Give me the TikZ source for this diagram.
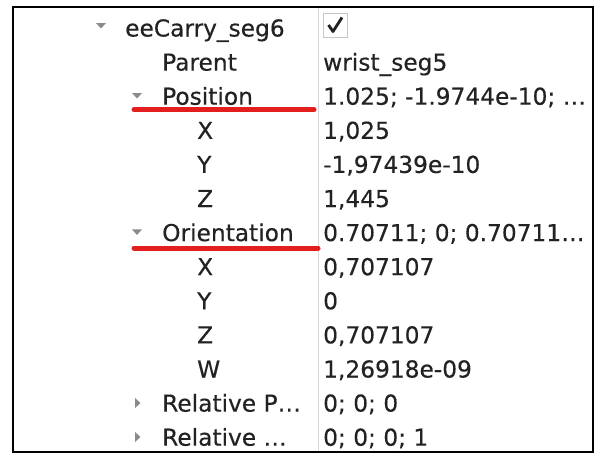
\documentclass[tikz,border=0pt]{standalone}
\usepackage{fontspec}
\setmainfont{DejaVu Sans}
\newfontfamily\tfont[FakeBold=0.35]{DejaVu Sans}
\begin{document}
\begin{tikzpicture}[x=1pt,y=-1pt,
  lbl/.style={anchor=base west,inner sep=0pt,text=txt,font=\tfont\fontsize{23.3}{26}\selectfont},
  tri/.style={fill=trig,draw=none},
  redline/.style={draw=redu,line width=5pt,line cap=round}]
\definecolor{txt}{HTML}{222222}
\definecolor{trig}{HTML}{8A8A8A}
\definecolor{redu}{HTML}{E21E1E}
\definecolor{sep}{HTML}{D8D8D8}
\useasboundingbox (0,0) rectangle (595,455);
\fill[white] (0,0) rectangle (595,455);
% column separator
\draw[sep,line width=1pt] (318,7) -- (318,452);
% left column labels
\node[lbl] (n0) at (125,{36.5}) {eeCarry\_seg6};
\node[lbl] (n1) at (162,{36.5+34.1}) {Parent};
\node[lbl] (n2) at (162,{36.5+34.1*2}) {Position};
\node[lbl] (n3) at (197,{36.5+34.1*3}) {X};
\node[lbl] (n4) at (197,{36.5+34.1*4}) {Y};
\node[lbl] (n5) at (197,{36.5+34.1*5}) {Z};
\node[lbl] (n6) at (162,{36.5+34.1*6}) {Orientation};
\node[lbl] (n7) at (197,{36.5+34.1*7}) {X};
\node[lbl] (n8) at (197,{36.5+34.1*8}) {Y};
\node[lbl] (n9) at (197,{36.5+34.1*9}) {Z};
\node[lbl] (n10) at (197,{36.5+34.1*10}) {W};
\node[lbl] (n11) at (162,{36.5+34.1*11}) {Relative P…};
\node[lbl] (n12) at (162,{36.5+34.1*12}) {Relative …};
% right column values
\node[lbl] (v1) at (323,{36.5+34.1}) {wrist\_seg5};
\node[lbl] (v2) at (323,{36.5+34.1*2}) {1.025; -1.9744e-10; …};
\node[lbl] (v3) at (323,{36.5+34.1*3}) {1,025};
\node[lbl] (v4) at (323,{36.5+34.1*4}) {-1,97439e-10};
\node[lbl] (v5) at (323,{36.5+34.1*5}) {1,445};
\node[lbl] (v6) at (323,{36.5+34.1*6}) {0.70711; 0; 0.70711…};
\node[lbl] (v7) at (323,{36.5+34.1*7}) {0,707107};
\node[lbl] (v8) at (323,{36.5+34.1*8}) {0};
\node[lbl] (v9) at (323,{36.5+34.1*9}) {0,707107};
\node[lbl] (v10) at (323,{36.5+34.1*10}) {1,26918e-09};
\node[lbl] (v11) at (323,{36.5+34.1*11}) {0; 0; 0};
\node[lbl] (v12) at (323,{36.5+34.1*12}) {0; 0; 0; 1};
% checkbox
\draw[draw=sep!80!gray,line width=1pt,fill=white] (323.5,13.5) rectangle (347,37);
\draw[txt,line width=2.8pt,line join=round] (328.5,25) -- (333,31.5) -- (342,17.5);
% triangles
\fill[tri] (96,23) -- (106,23) -- (101,28.5) -- cycle;
\fill[tri] (132,93) -- (142,93) -- (137,98.5) -- cycle;
\fill[tri] (132,{93+34.1*4}) -- (142,{93+34.1*4}) -- (137,{98.5+34.1*4}) -- cycle;
\fill[tri] (135,398) -- (135,408) -- (140.5,403) -- cycle;
\fill[tri] (135,432) -- (135,442) -- (140.5,437) -- cycle;
% red underlines
\draw[redline] (134,109.5) -- (314,109.5);
\draw[redline] (134,248) -- (318,248);
% border
\draw[black,line width=2pt] (13,7) rectangle (593,452);
\end{tikzpicture}
\end{document}
